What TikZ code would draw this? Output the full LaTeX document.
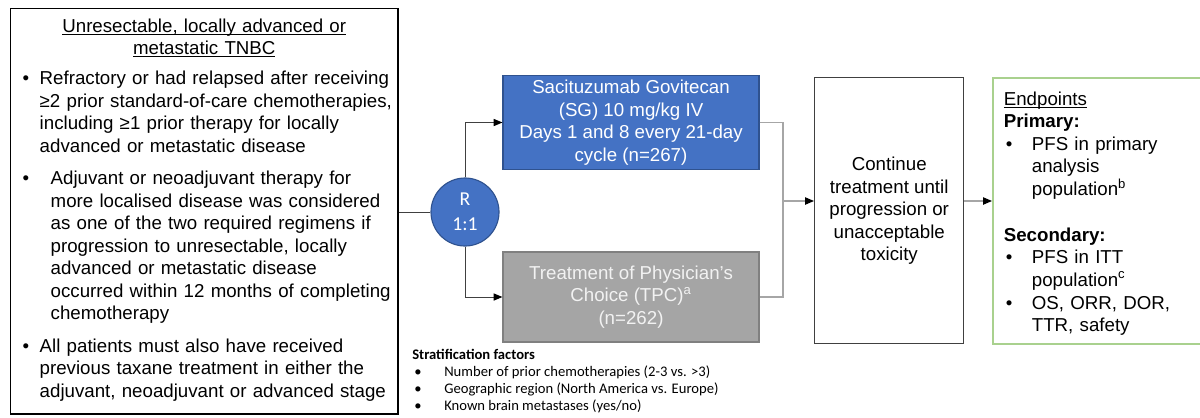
\documentclass[tikz,border=0pt]{standalone}
\usepackage{fontspec}
\setmainfont{Liberation Sans}
\newfontfamily\stratfont{Carlito}
\usepackage{tikz}
\usetikzlibrary{positioning}
\usetikzlibrary{arrows.meta}
\usetikzlibrary{calc}
\usepackage{xcolor}
\definecolor{sgblue}{HTML}{4472C4}
\definecolor{sgedge}{HTML}{2F528F}
\definecolor{tpcgray}{HTML}{A5A5A5}
\definecolor{tpcedge}{HTML}{808080}
\definecolor{tpctext}{HTML}{F2F2F2}
\definecolor{endgreen}{HTML}{A9D18E}
\definecolor{linegray}{HTML}{A6A6A6}
\definecolor{linedark}{HTML}{404040}
\setlength{\lineskip}{0pt}

% 带下划线的标题 / 项目符号行
\newcommand{\ulhead}[1]{\underline{\raisebox{0pt}[\height][0pt]{#1}}}
\newcommand{\bitem}[2]{\makebox[#1][l]{\textbullet}\begin{tabular}[t]{@{}l@{}}#2\end{tabular}}

\begin{document}
\begin{tikzpicture}[x=0.025cm, y=-0.025cm]
        % ================= 样式定义 =================
        \tikzset{
            % 普通文字框
            txtbox/.style={draw=linedark, line width=1pt, inner ysep=0pt, align=left,
                font=\fontsize{13.3}{16}\selectfont},
            % 治疗组方框
            armbox/.style={line width=0.8pt, minimum width=6.4cm, align=center,
                font=\fontsize{13.3}{16}\selectfont},
            % 随机化圆
            rnode/.style={circle, draw=sgedge, fill=sgblue, line width=0.8pt, minimum size=1.7cm,
                inner sep=0pt, align=center, text=white, font=\stratfont\fontsize{14}{18}\selectfont},
            % 连线
            conn/.style={linedark, line width=0.7pt},
            gconn/.style={linegray, line width=0.8pt},
            tip/.style={-{Triangle[length=2.2mm, width=1.8mm, color=black]}}
        }
        \useasboundingbox (0,0) rectangle (1200,417);

        % ================= 入组条件 =================
        \node[txtbox, draw=black, anchor=north west, inner xsep=0.3cm, text width=9.075cm,
              minimum width=9.675cm, minimum height=10.125cm] (lbox) at (10,8) {%
            {\centering\ulhead{Unresectable, locally advanced or}\\ \ulhead{metastatic TNBC}\par}
            \vspace{5.5pt}
            \bitem{0.425cm}{Refractory or had relapsed after receiving\\
                ≥2 prior standard-of-care chemotherapies,\\
                including ≥1 prior therapy for locally\\
                advanced or metastatic disease}\par
            \vspace{6pt}
            \bitem{0.7cm}{Adjuvant or neoadjuvant therapy for\\
                more localised disease was considered\\
                as one of the two required regimens if\\
                progression to unresectable, locally\\
                advanced or metastatic disease\\
                occurred within 12 months of completing\\
                chemotherapy}\par
            \vspace{6pt}
            \bitem{0.425cm}{All patients must also have received\\
                previous taxane treatment in either the\\
                adjuvant, neoadjuvant or advanced stage}\par
        };

        % ================= 随机化与治疗组 =================
        \node[rnode] (rand) at (465,212) {R\\1:1};
        \node[armbox, draw=sgedge, fill=sgblue, text=white, minimum height=2.275cm] (sg) at (631,122.5)
            {Sacituzumab Govitecan\\(SG) 10 mg/kg IV\\Days 1 and 8 every 21-day\\cycle (n=267)};
        \node[armbox, draw=tpcedge, fill=tpcgray, text=tpctext, minimum height=2.25cm] (tpc) at (631,297)
            {Treatment of Physician’s\\Choice (TPC)\textsuperscript{a}\\(n=262)};

        % 分层因素
        \node[anchor=north west, inner sep=0pt, align=left,
              font=\stratfont\fontsize{10.4}{12}\selectfont] (strat) at (412,349)
            {\textbf{Stratification factors}\\
             \hspace*{0.05cm}\makebox[0.75cm][l]{•}Number of prior chemotherapies (2-3 vs. >3)\\
             \hspace*{0.05cm}\makebox[0.75cm][l]{•}Geographic region (North America vs. Europe)\\
             \hspace*{0.05cm}\makebox[0.75cm][l]{•}Known brain metastases (yes/no)};

        % ================= 后续治疗与终点 =================
        \node[txtbox, anchor=north west, align=center, minimum width=3.725cm, minimum height=6.65cm] (cont) at (814,77)
            {Continue\\treatment until\\progression or\\unacceptable\\toxicity};
        \node[txtbox, draw=endgreen, line width=1.2pt, anchor=north west, inner xsep=0.275cm, text width=4.9cm,
              minimum width=5.45cm, minimum height=6.65cm, font=\fontsize{13.3}{15.8}\selectfont] (endp) at (992,77) {%
            \rule{0pt}{16pt}\ulhead{Endpoints}\par
            \strut\textbf{Primary:}\par
            \hspace*{0.05cm}\bitem{0.65cm}{PFS in primary\\analysis\\population\textsuperscript{b}}\par
            \strut\par
            \strut\textbf{Secondary:}\par
            \hspace*{0.05cm}\bitem{0.65cm}{PFS in ITT\\population\textsuperscript{c}}\par
            \hspace*{0.05cm}\bitem{0.65cm}{OS, ORR, DOR,\\TTR, safety}\par
        };

        % ================= 连线 =================
        \coordinate (join) at (783,201);
        \draw[conn] (lbox.east |- rand.west) -- (rand.west);
        \draw[conn, tip] (rand.north) |- (sg.west);
        \draw[conn, tip] (rand.south) |- (tpc.west);
        \draw[gconn] (sg.east) -| (join) |- (tpc.east);
        \draw[gconn, tip] (join) -- (join -| cont.west);
        \draw[gconn, tip] (cont.east |- join) -- (endp.west |- join);

    \end{tikzpicture}
\end{document}
